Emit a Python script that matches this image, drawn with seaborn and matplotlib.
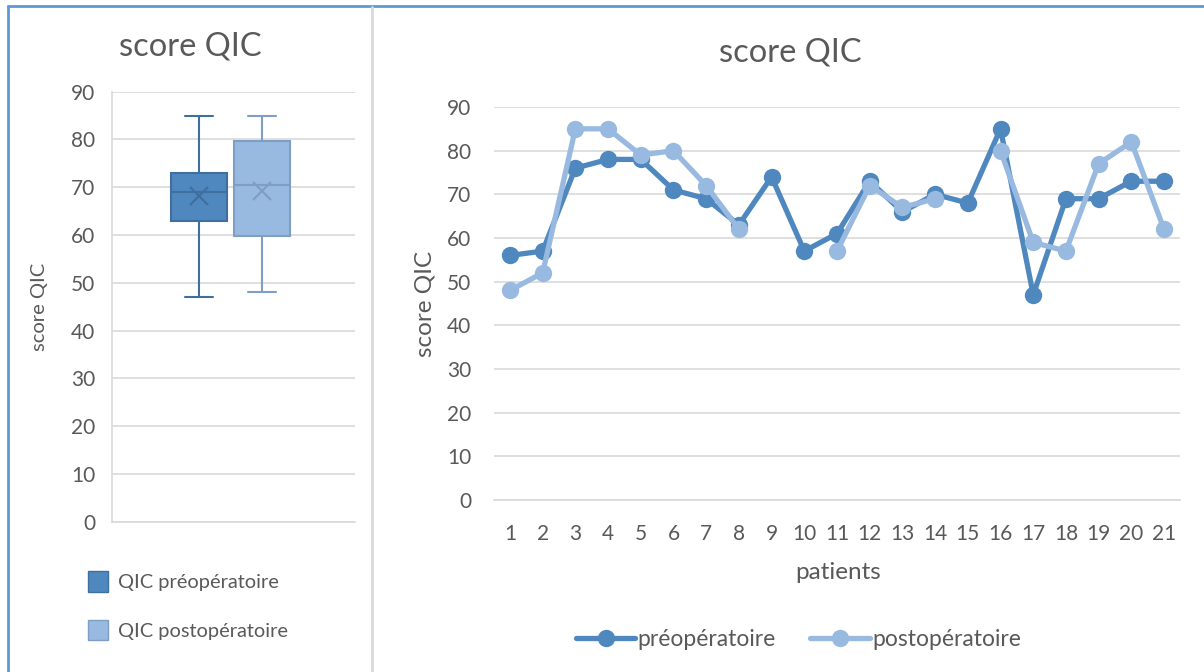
import numpy as np
import pandas as pd
import matplotlib
matplotlib.use("Agg")
import matplotlib.pyplot as plt
from matplotlib.lines import Line2D
from matplotlib.patches import Patch
import seaborn as sns

# ---------------- data ----------------
patients = list(range(1, 22))
pre_scores = [56, 57, 76, 78, 78, 71, 69, 63, 74, 57, 61, 73, 66, 70, 68, 85, 47, 69, 69, 73, 73]
post_scores = [48, 52, 85, 85, 79, 80, 72, 62, np.nan, np.nan, 57, 72, 67, 69, np.nan, 80, 59, 57, 77, 82, 62]
series_names = ["préopératoire", "postopératoire"]
box_names = ["QIC préopératoire", "QIC postopératoire"]
title_text = "score QIC"
ylabel_text = "score QIC"
xlabel_text = "patients"
yticks = [0, 10, 20, 30, 40, 50, 60, 70, 80, 90]

# ---------------- style ----------------
C_PRE = "#4F88BE"
C_POST = "#99BAE0"
C_PRE_EDGE = "#3F6F9F"
C_POST_EDGE = "#7F9EC4"
GRID = "#D9D9D9"
TXT = "#595959"

sns.set_theme(style="white")
plt.rcParams["font.family"] = ["Lato", "DejaVu Sans"]
plt.rcParams["text.color"] = TXT
plt.rcParams["axes.labelcolor"] = TXT
plt.rcParams["xtick.color"] = TXT
plt.rcParams["ytick.color"] = TXT

W, H = 1204, 672
fig = plt.figure(figsize=(W / 100, H / 100), dpi=100)
fig.patch.set_facecolor("white")

def fx(px):
    return px / W

def fy(py):
    return 1 - py / H

# ---------------- left: box plot ----------------
axb = fig.add_axes([fx(112), fy(521.7), fx(355) - fx(112), fy(91.7) - fy(521.7)])
box_df = pd.DataFrame({
    "group": [box_names[0]] * len(pre_scores) + [box_names[1]] * len(post_scores),
    "value": pre_scores + post_scores,
}).dropna()

for name, fc, ec in [(box_names[0], C_PRE, C_PRE_EDGE), (box_names[1], C_POST, C_POST_EDGE)]:
    sns.boxplot(
        data=box_df[box_df["group"] == name], x="group", y="value",
        order=box_names, color=fc, linecolor=ec, linewidth=1.5,
        width=0.9, whis=(0, 100), showmeans=True, saturation=1,
        meanprops=dict(marker="x", markeredgecolor=ec, markersize=13, markeredgewidth=1.6),
        ax=axb,
    )

axb.set_ylim(0, 90)
axb.set_yticks(yticks)
axb.set_xlim(-1.38, 2.48)
axb.set_xticks([])
axb.set_xlabel("")
axb.set_ylabel(ylabel_text, fontsize=14.5)
axb.yaxis.set_label_coords(-0.263, 0.5)
axb.grid(axis="y", color=GRID, linewidth=1.2)
axb.set_axisbelow(True)
for s in ["top", "right"]:
    axb.spines[s].set_visible(False)
for s in ["left", "bottom"]:
    axb.spines[s].set_color(GRID)
    axb.spines[s].set_linewidth(1.2)
axb.tick_params(axis="y", length=0, pad=12, labelsize=15)

leg_handles = [Patch(facecolor=C_PRE, edgecolor=C_PRE_EDGE), Patch(facecolor=C_POST, edgecolor=C_POST_EDGE)]
fig.legend(leg_handles, box_names, loc="upper left", bbox_to_anchor=(fx(70), fy(553)),
           frameon=False, fontsize=14.4, handlelength=1.0, handleheight=1.2,
           handletextpad=0.5, labelspacing=1.4)

fig.text(fx(190), fy(47), title_text, fontsize=23.5, ha="center", va="center", color=TXT)

# ---------------- right: line chart ----------------
axl = fig.add_axes([fx(493.6), fy(500), fx(1180.4) - fx(493.6), fy(107) - fy(500)])

rows = []
for name, vals in [(series_names[0], pre_scores), (series_names[1], post_scores)]:
    seg = 0
    prev_nan = False
    for p, v in zip(patients, vals):
        if np.isnan(v):
            prev_nan = True
            continue
        if prev_nan:
            seg += 1
            prev_nan = False
        rows.append({"patient": p, "score": v, "serie": name, "seg": f"{name}-{seg}"})
line_df = pd.DataFrame(rows)

sns.lineplot(
    data=line_df, x="patient", y="score", hue="serie", units="seg", estimator=None,
    hue_order=series_names, palette=[C_PRE, C_POST], marker="o", markersize=12.5,
    markeredgewidth=0, linewidth=3.8, ax=axl,
)

axl.set_xlim(0.5, 21.5)
axl.set_ylim(0, 90)
axl.set_xticks(patients)
axl.set_yticks(yticks)
axl.grid(axis="y", color=GRID, linewidth=1.2)
axl.set_axisbelow(True)
for s in ["top", "right", "left"]:
    axl.spines[s].set_visible(False)
axl.spines["bottom"].set_color(GRID)
axl.spines["bottom"].set_linewidth(1.2)
axl.tick_params(axis="both", length=0, labelsize=15)
axl.tick_params(axis="x", pad=17)
axl.tick_params(axis="y", pad=16)
axl.set_ylabel(ylabel_text, fontsize=17.5)
axl.yaxis.set_label_coords(-0.085, 0.5)
axl.set_xlabel(xlabel_text, fontsize=17.5)
axl.xaxis.set_label_coords(0.501, -0.157)

sns.move_legend(axl, "center", bbox_to_anchor=(0.444, -0.356), ncol=2, frameon=False,
                title=None, fontsize=16.5, handlelength=2.6, handletextpad=0.1,
                columnspacing=1.5)

fig.text(fx(790), fy(53), title_text, fontsize=23.5, ha="center", va="center", color=TXT)

# ---------------- frame lines ----------------
fig.add_artist(Line2D([fx(8), fx(8)], [0, fy(6)], transform=fig.transFigure, color="#5B9BD5", lw=2))
fig.add_artist(Line2D([fx(8), 1], [fy(6), fy(6)], transform=fig.transFigure, color="#5B9BD5", lw=2))
fig.add_artist(Line2D([fx(372), fx(372)], [0, fy(7)], transform=fig.transFigure, color=GRID, lw=2))

fig.savefig("out.png", dpi=100)
